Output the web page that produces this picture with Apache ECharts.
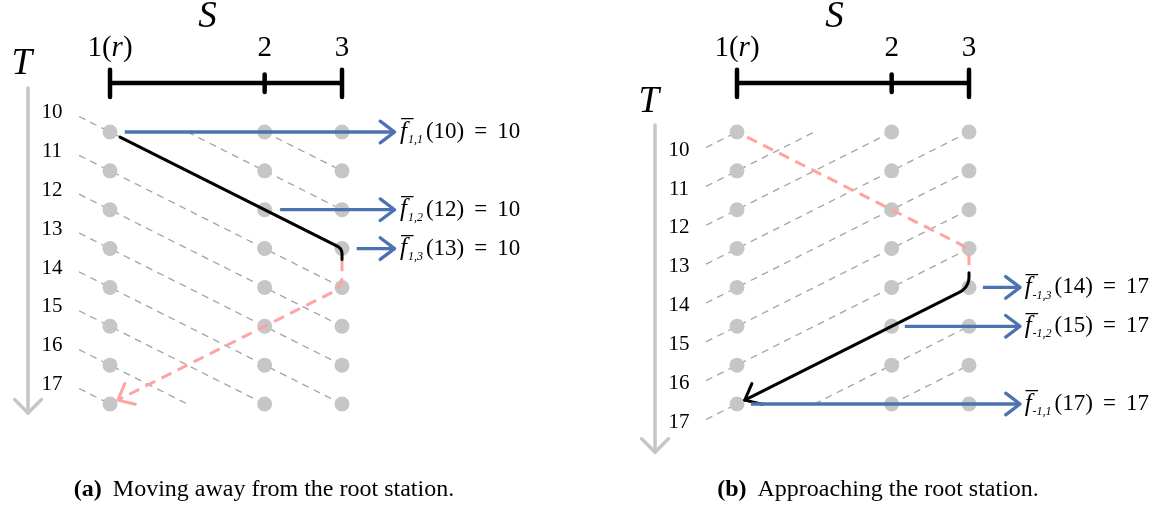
<!DOCTYPE html>
<html><head><meta charset="utf-8">
<script src="https://cdn.jsdelivr.net/npm/echarts@6/dist/echarts.min.js"></script>
<style>html,body{margin:0;padding:0;background:#fff}#c{width:1169px;height:508px}</style>
</head><body><div id="c"></div>
<script>
// ---------------- data ----------------
const stationNames = ['1(r)', '2', '3'];
const stationPos = [0, 2, 3];
const timeSteps = [10, 11, 12, 13, 14, 15, 16, 17];
const waveOffsetsA = [8, 9, 10, 11, 12, 13, 14, 15, 16, 17];   // dashed lines t - s = k
const waveOffsetsB = [10, 11, 12, 13, 14, 15, 16, 17, 18, 19]; // dashed lines t + s = k
const trainPathA = [[0.13, 10.13], [3, 13], [3, 13.28]];
const pinkPathA = [[3, 13.3], [3, 14], [0.1, 16.9]];
const pinkPathB = [[0.13, 10.13], [3, 13], [3, 13.58]];
const trainPathB = [[3, 13.62], [3, 14], [0.1, 16.9]];
const arrowStartsA = [0.19, 2.2, 3.19];
const arrowTimesA = [10, 12, 13];
const arrowSubsA = ['1,1', '1,2', '1,3'];
const arrowValuesA = [10, 10, 10];
const arrowStartsB = [3.18, 2.17, 0.18];
const arrowTimesB = [14, 15, 17];
const arrowSubsB = ['-1,3', '-1,2', '-1,1'];
const arrowValuesB = [17, 17, 17];
const captions = [['(a)', 'Moving away from the root station.'], ['(b)', 'Approaching the root station.']];

// ---------------- style ----------------
const SERIF = "'Liberation Serif', 'DejaVu Serif', serif";
const BLUE = '#4c72b0', PINK = '#ffa3a3', GRAY = '#c6c6c6', DASH = '#a3a3a3';
const UX = 77.333, UY = 38.857;
const gridTop = 132 - UY, gridH = 9 * UY, gridW = 5 * UX;
const panelLeft = [110 - UX, 737 - UX];

function roundPts(pts, r) {
  if (pts.length < 3) return pts;
  const out = [pts[0]];
  for (let i = 1; i < pts.length - 1; i++) {
    const p0 = pts[i - 1], p1 = pts[i], p2 = pts[i + 1];
    const d1 = Math.hypot(p1[0] - p0[0], p1[1] - p0[1]);
    const d2 = Math.hypot(p2[0] - p1[0], p2[1] - p1[1]);
    const rr = Math.min(r, d1 * 0.9, d2 * 0.5);
    const a = [p1[0] + (p0[0] - p1[0]) * rr / d1, p1[1] + (p0[1] - p1[1]) * rr / d1];
    const b = [p1[0] + (p2[0] - p1[0]) * rr / d2, p1[1] + (p2[1] - p1[1]) * rr / d2];
    for (let k = 0; k <= 10; k++) {
      const u = k / 10, v = 1 - u;
      out.push([v * v * a[0] + 2 * u * v * p1[0] + u * u * b[0], v * v * a[1] + 2 * u * v * p1[1] + u * u * b[1]]);
    }
  }
  out.push(pts[pts.length - 1]);
  return out;
}
function chevron(tip, from, len, angDeg) {
  const dx = from[0] - tip[0], dy = from[1] - tip[1];
  const d = Math.hypot(dx, dy), ux = dx / d, uy = dy / d;
  const a = angDeg * Math.PI / 180, c = Math.cos(a), s = Math.sin(a);
  return [[tip[0] + len * (ux * c - uy * s), tip[1] + len * (ux * s + uy * c)], tip,
          [tip[0] + len * (ux * c + uy * s), tip[1] + len * (-ux * s + uy * c)]];
}
function pl(points, stroke, lw, dash, cap) {
  return { type: 'polyline', shape: { points }, style: { stroke, lineWidth: lw, fill: 'none', lineDash: dash || null, lineCap: cap || 'butt', lineJoin: 'round' } };
}
function customSeries(gi, items, draw, z) {
  return {
    type: 'custom', xAxisIndex: gi, yAxisIndex: gi, coordinateSystem: 'cartesian2d', clip: false, silent: true, z,
    data: items.map(() => [0, 10]),
    renderItem: (params, api) => draw(items[params.dataIndex], api)
  };
}

function panelSeries(gi) {
  const A = gi === 0;
  const series = [];
  // gray time arrow + axis names
  series.push(customSeries(gi, [0], (_, api) => {
    const top = api.coord([-1.06, A ? 8.87 : 9.82]), bot = api.coord([-1.06, A ? 17.23 : 18.24]);
    const tl = api.coord([-1.14, A ? 8.27 : 9.23]);
    const sl = api.coord([1.26, 7.05]);
    return { type: 'group', children: [
      pl([top, bot], GRAY, 3.5, null, 'round'),
      pl(chevron(bot, top, 19, 45), GRAY, 3.5, null, 'round'),
      { type: 'text', style: { text: 'T', x: tl[0], y: tl[1], align: 'center', verticalAlign: 'middle', font: 'italic 37px ' + SERIF, fill: '#000' } },
      { type: 'text', style: { text: 'S', x: sl[0], y: sl[1], align: 'center', verticalAlign: 'middle', font: 'italic 37px ' + SERIF, fill: '#000' } }
    ] };
  }, 1));
  // time tick labels
  series.push(customSeries(gi, timeSteps, (t, api) => {
    const p = api.coord([-0.75, A ? t - 0.5 : t + 0.47]);
    return { type: 'text', style: { text: String(t), x: p[0], y: p[1], align: 'center', verticalAlign: 'middle', font: '21px ' + SERIF, fill: '#000' } };
  }, 1));
  // station bar
  series.push(customSeries(gi, [0], (_, api) => {
    const ch = [pl([api.coord([stationPos[0], 8.74]), api.coord([stationPos[stationPos.length - 1], 8.74])], '#000', 4.5, null, 'butt')];
    stationPos.forEach((s, i) => {
      const end = i === 0 || i === stationPos.length - 1;
      ch.push(pl([api.coord([s, end ? 8.4 : 8.52]), api.coord([s, end ? 9.1 : 8.97])], '#000', 4.5, null, 'round'));
    });
    return { type: 'group', children: ch };
  }, 2));
  // dashed grid lines
  const offs = A ? waveOffsetsA : waveOffsetsB;
  series.push(customSeries(gi, offs, (k, api) => {
    let s0, s1, t0, t1;
    if (A) { s0 = (k >= 10 && k <= 17) ? -0.4 : 10 - k; s1 = Math.min(3, 17 - k); t0 = k + s0; t1 = k + s1; }
    else { s0 = (k >= 10 && k <= 17) ? -0.4 : k - 17; s1 = Math.min(3, k - 10); t0 = k - s0; t1 = k - s1; }
    return pl([api.coord([s0, t0]), api.coord([s1, t1])], DASH, 1.3, [7, 5.5]);
  }, 1));
  // paths
  const pink = A ? pinkPathA : pinkPathB, black = A ? trainPathA : trainPathB;
  series.push(customSeries(gi, [0], (_, api) => {
    const pp = pink.map(p => api.coord(p)), bp = black.map(p => api.coord(p));
    const ch = [pl(roundPts(pp, 11), PINK, 3, [11, 7]), pl(roundPts(bp, 11), '#000', 3, null, 'round')];
    if (A) ch.push(pl(chevron(pp[pp.length - 1], pp[pp.length - 2], 18, 40), PINK, 3, null, 'round'));
    else ch.push(pl(chevron(bp[bp.length - 1], bp[bp.length - 2], 18, 40), '#000', 3, null, 'round'));
    return { type: 'group', children: ch };
  }, 4));
  // blue arrows + labels
  const starts = A ? arrowStartsA : arrowStartsB, times = A ? arrowTimesA : arrowTimesB;
  const subs = A ? arrowSubsA : arrowSubsB, vals = A ? arrowValuesA : arrowValuesB;
  series.push(customSeries(gi, starts.map((s, i) => i), (i, api) => {
    const a = api.coord([starts[i], times[i]]), b = api.coord([A ? 3.68 : 3.66, times[i]]);
    const lp = api.coord([A ? 3.75 : 3.72, times[i]]);
    return { type: 'group', children: [
      pl([a, b], BLUE, 3.3, null, 'butt'),
      pl(chevron(b, a, 18, 37), BLUE, 3.3, null, 'round'),
      { type: 'text', style: { x: lp[0], y: lp[1], align: 'left', verticalAlign: 'middle', fill: '#000',
        text: '{f|f\u0305}{s|' + subs[i] + '}{n|(' + times[i] + ')}{e|=}{n|' + vals[i] + '}',
        rich: {
          f: { fontFamily: SERIF, fontStyle: 'italic', fontSize: 25, lineHeight: 28 },
          s: { fontFamily: SERIF, fontStyle: 'italic', fontSize: 12, verticalAlign: 'bottom', lineHeight: 17, padding: [0, 3, 0, 1] },
          n: { fontFamily: SERIF, fontSize: 23, lineHeight: 28 },
          e: { fontFamily: SERIF, fontSize: 23, lineHeight: 28, padding: [0, 10, 0, 10] }
        } } }
    ] };
  }, 5));
  // dots
  const dots = [];
  stationPos.forEach(s => timeSteps.forEach(t => dots.push([s, t])));
  series.push({ type: 'scatter', xAxisIndex: gi, yAxisIndex: gi, data: dots, symbolSize: 15, silent: true, z: 3,
    itemStyle: { color: GRAY, opacity: 1 } });
  return series;
}

const chart = echarts.init(document.getElementById('c'));
const grids = panelLeft.map(l => ({ left: l, top: gridTop, width: gridW, height: gridH }));
const xAxes = [0, 1].map(i => ({
  type: 'value', gridIndex: i, min: -1, max: 4, interval: 1, position: 'top',
  axisLine: { show: false }, axisTick: { show: false }, splitLine: { show: false },
  axisLabel: {
    show: true, margin: 45, verticalAlign: 'middle', color: '#000', showMinLabel: true, showMaxLabel: true,
    formatter: v => {
      const idx = stationPos.indexOf(v);
      if (idx < 0) return '';
      const m = stationNames[idx].match(/^(\d+)\((\w)\)$/);
      return m ? '{n|' + m[1] + '(}{i|' + m[2] + '}{n|)}' : '{n|' + stationNames[idx] + '}';
    },
    rich: { n: { fontFamily: SERIF, fontSize: 29, color: '#000' }, i: { fontFamily: SERIF, fontSize: 29, fontStyle: 'italic', color: '#000' } }
  }
}));
const yAxes = [0, 1].map(i => ({ type: 'value', gridIndex: i, min: 9, max: 18, interval: 1, inverse: true, show: false }));
const capCenters = [264, 878];
chart.setOption({
  animation: false,
  backgroundColor: '#fff',
  grid: grids, xAxis: xAxes, yAxis: yAxes,
  series: panelSeries(0).concat(panelSeries(1)),
  graphic: captions.map((c, i) => ({
    type: 'text', x: capCenters[i], y: 490,
    style: { text: '{b|' + c[0] + '}{n|' + c[1] + '}', align: 'center', verticalAlign: 'middle',
      rich: { b: { fontFamily: SERIF, fontWeight: 'bold', fontSize: 24, padding: [0, 11, 0, 0] }, n: { fontFamily: SERIF, fontSize: 24 } } }
  }))
});
</script></body></html>
